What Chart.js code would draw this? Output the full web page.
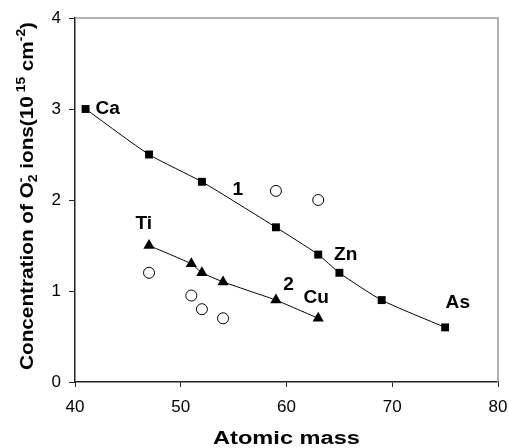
<!DOCTYPE html>
<html><head><meta charset="utf-8">
<script src="https://cdn.jsdelivr.net/npm/chart.js@4"></script>
<style>html,body{margin:0;padding:0;background:#fff;}#wrap{width:509px;height:448px;position:relative;}</style>
</head><body><div id="wrap"><canvas id="c" width="509" height="448"></canvas></div>
<script>
// Data
const mass1 = [41, 47, 52, 59, 63, 65, 69, 75];
const conc1 = [3.0, 2.5, 2.2, 1.7, 1.4, 1.2, 0.9, 0.6];
const mass2 = [47, 51, 52, 54, 59, 63];
const conc2 = [1.5, 1.3, 1.2, 1.1, 0.9, 0.7];
const massOpen = [59, 63, 47, 51, 52, 54];
const concOpen = [2.1, 2.0, 1.2, 0.95, 0.8, 0.7];
const labelTexts = ['Ca', '1', 'Ti', 'Zn', '2', 'Cu', 'As'];
const labelX = [43.1, 55.4, 46.5, 65.6, 60.2, 62.8, 76.2];
const labelY = [3.0, 2.11, 1.74, 1.39, 1.07, 0.92, 0.87];
const xTicks = [40, 50, 60, 70, 80];
const yTicks = [0, 1, 2, 3, 4];
const xTitle = 'Atomic mass';
const yTitleParts = [['Concentration of O', 0], ['2', -1], ['-', 1, true], [' ions(10', 0], [' 15', 1], [' cm', 0], ['-2', 1], [')', 0]];

const FONT = '"Liberation Sans", Arial, sans-serif';
const pts = (xs, ys) => xs.map((x, i) => ({x: x, y: ys[i]}));

const annot = {
  id: 'annot',
  beforeDatasetsDraw(chart) {
    const {ctx, chartArea: a} = chart;
    ctx.save();
    ctx.strokeStyle = '#9a9a9a';
    ctx.lineWidth = 1.5;
    ctx.beginPath();
    ctx.moveTo(a.left, a.top);
    ctx.lineTo(a.right, a.top);
    ctx.lineTo(a.right, a.bottom);
    ctx.stroke();
    ctx.restore();
  },
  afterDatasetsDraw(chart) {
    const {ctx, scales: {x, y}, chartArea: a} = chart;
    ctx.save();
    ctx.fillStyle = '#000';
    ctx.font = 'bold 18px ' + FONT;
    ctx.textAlign = 'center';
    ctx.textBaseline = 'middle';
    labelTexts.forEach((t, i) => {
      ctx.save();
      ctx.translate(x.getPixelForValue(labelX[i]), y.getPixelForValue(labelY[i]));
      ctx.scale(1.06, 1);
      ctx.fillText(t, 0, 0);
      ctx.restore();
    });
    // X title, stretched to the reference width
    ctx.save();
    ctx.font = 'bold 18px ' + FONT;
    ctx.textBaseline = 'alphabetic';
    const xw = ctx.measureText(xTitle).width;
    ctx.translate((a.left + a.right) / 2, 444);
    ctx.scale(147 / xw, 1);
    ctx.fillText(xTitle, 0, 0);
    ctx.restore();
    // Y title with sub/superscripts
    const big = 'bold 18px ' + FONT, small = 'bold 12px ' + FONT;
    let total = 0, widths = [];
    yTitleParts.forEach(p => {
      ctx.font = p[1] === 0 ? big : small;
      const w = ctx.measureText(p[0]).width;
      widths.push(w);
      if (!p[2]) total += w;
    });
    ctx.translate(33, 196);
    ctx.rotate(-Math.PI / 2);
    ctx.scale(348 / total, 1);
    ctx.textAlign = 'left';
    ctx.textBaseline = 'alphabetic';
    let cx = -total / 2, prevStart = cx;
    yTitleParts.forEach((p, i) => {
      ctx.font = p[1] === 0 ? big : small;
      const dy = p[1] === 1 ? -8 : (p[1] === -1 ? 4 : 0);
      const sx = p[2] ? prevStart : cx;
      ctx.fillText(p[0], sx, dy);
      if (!p[2]) { prevStart = cx; cx += widths[i]; }
    });
    ctx.restore();
  }
};

new Chart(document.getElementById('c'), {
  type: 'scatter',
  data: {
    datasets: [
      {data: pts(mass1, conc1), showLine: true, borderColor: '#000', borderWidth: 1, tension: 0.2,
       pointStyle: 'rect', pointRadius: 5.6, pointBackgroundColor: '#000', pointBorderColor: '#000', pointBorderWidth: 0},
      {data: pts(mass2, conc2), showLine: true, borderColor: '#000', borderWidth: 1, tension: 0.1,
       pointStyle: 'triangle', pointRadius: 6.5, pointBackgroundColor: '#000', pointBorderColor: '#000', pointBorderWidth: 0},
      {data: pts(massOpen, concOpen), showLine: false, pointStyle: 'circle', pointRadius: 5.5,
       pointBackgroundColor: '#fff', pointBorderColor: '#000', pointBorderWidth: 1}
    ]
  },
  options: {
    responsive: false,
    animation: false,
    events: [],
    layout: {padding: {top: 18, right: 11, left: 0, bottom: 0}},
    plugins: {legend: {display: false}, tooltip: {enabled: false}},
    scales: {
      x: {
        type: 'linear', min: 40, max: 80,
        afterBuildTicks: s => { s.ticks = xTicks.map(v => ({value: v})); },
        afterFit: s => { s.height = 66; s.paddingRight = 0; s.paddingLeft = 0; },
        border: {color: '#222', width: 1.5},
        grid: {drawOnChartArea: false, drawTicks: true, tickLength: 5, color: '#222'},
        ticks: {color: '#000', font: {size: 17, family: FONT}, padding: 10, maxRotation: 0},
        title: {display: false}
      },
      y: {
        type: 'linear', min: 0, max: 4,
        afterBuildTicks: s => { s.ticks = yTicks.map(v => ({value: v})); },
        afterFit: s => { s.width = 75; s.paddingTop = 0; s.paddingBottom = 0; },
        border: {color: '#222', width: 1.5},
        grid: {drawOnChartArea: false, drawTicks: true, tickLength: 6, color: '#222'},
        ticks: {color: '#000', font: {size: 17, family: FONT}, padding: 8}
      }
    }
  },
  plugins: [annot]
});
</script></body></html>
